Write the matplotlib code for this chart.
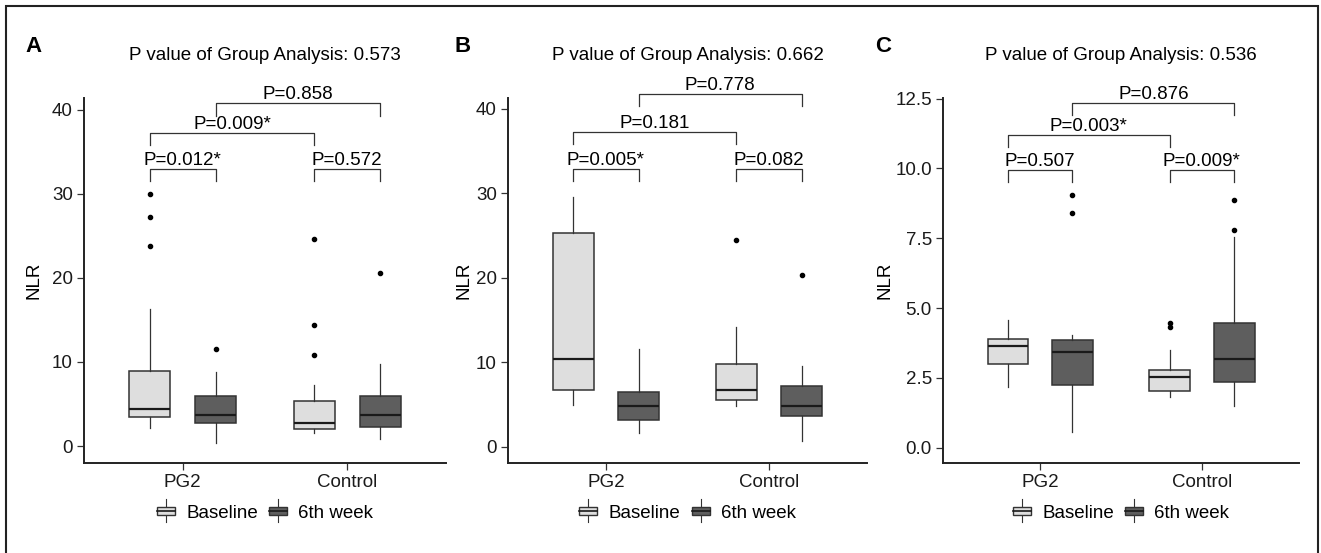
import matplotlib
matplotlib.use('Agg')
import matplotlib.pyplot as plt
from matplotlib.patches import Rectangle, Patch
from matplotlib.lines import Line2D
from matplotlib.legend_handler import HandlerBase
from matplotlib.ticker import FormatStrFormatter

plt.rcParams['font.family'] = ['Liberation Sans', 'DejaVu Sans']

groups = ['PG2', 'Control']
series = ['Baseline', '6th week']

# five-number summaries per group: low whisker, Q1, median, Q3, high whisker
a_baseline = [[2.1, 3.5, 4.4, 8.9, 16.3], [1.6, 2.0, 2.7, 5.4, 7.3]]
a_week6 = [[0.4, 2.7, 3.7, 5.9, 8.8], [0.8, 2.3, 3.7, 6.0, 9.8]]
a_baseline_out = [[30.0, 27.2, 23.8], [24.6, 14.4, 10.8]]
a_week6_out = [[11.6], [20.6]]
a_pvals = ['P=0.012*', 'P=0.572', 'P=0.009*', 'P=0.858']
a_heights = [32.9, 32.9, 37.2, 40.75]

b_baseline = [[4.95, 6.7, 10.4, 25.3, 29.6], [4.8, 5.5, 6.7, 9.8, 14.2]]
b_week6 = [[1.6, 3.1, 4.8, 6.45, 11.55], [0.6, 3.65, 4.8, 7.2, 9.6]]
b_baseline_out = [[], [24.5]]
b_week6_out = [[], [20.3]]
b_pvals = ['P=0.005*', 'P=0.082', 'P=0.181', 'P=0.778']
b_heights = [32.9, 32.9, 37.3, 41.8]

c_baseline = [[2.16, 2.98, 3.64, 3.9, 4.58], [1.8, 2.02, 2.52, 2.79, 3.5]]
c_week6 = [[0.56, 2.24, 3.43, 3.86, 4.05], [1.49, 2.34, 3.17, 4.46, 7.53]]
c_baseline_out = [[], [4.46, 4.31]]
c_week6_out = [[9.04, 8.39], [8.87, 7.81]]
c_pvals = ['P=0.507', 'P=0.009*', 'P=0.003*', 'P=0.876']
c_heights = [9.93, 9.93, 11.21, 12.33]

group_p = ['0.573', '0.662', '0.536']
panel_letters = ['A', 'B', 'C']

fill_colors = ['#DEDEDE', '#5E5E5E']
edge = '#333333'


class BoxKey(HandlerBase):
    # legend key drawn like a small boxplot
    def create_artists(self, legend, orig_handle, xdescent, ydescent,
                       width, height, fontsize, trans):
        x0, y0 = -xdescent, -ydescent
        bh = height * 0.68
        by = y0 + (height - bh) / 2
        xm = x0 + width / 2
        lo = Line2D([xm, xm], [y0 - height * 0.35, by], color=edge, lw=0.8, transform=trans)
        hi = Line2D([xm, xm], [by + bh, y0 + height * 1.4], color=edge, lw=0.8, transform=trans)
        box = Rectangle((x0, by), width, bh, facecolor=orig_handle.get_facecolor(),
                        edgecolor=edge, lw=1.0, transform=trans)
        med = Line2D([x0, x0 + width], [by + bh / 2] * 2, color='#1a1a1a', lw=1.2, transform=trans)
        return [lo, hi, box, med]


def make_stats(summaries, outliers):
    stats = []
    for s, out in zip(summaries, outliers):
        stats.append(dict(whislo=s[0], q1=s[1], med=s[2], q3=s[3], whishi=s[4], fliers=out))
    return stats


panels = [
    (a_baseline, a_week6, a_baseline_out, a_week6_out, a_pvals, a_heights),
    (b_baseline, b_week6, b_baseline_out, b_week6_out, b_pvals, b_heights),
    (c_baseline, c_week6, c_baseline_out, c_week6_out, c_pvals, c_heights),
]
lefts = [84, 508, 943]
rights = [446, 867, 1299]
ylims = [(-2.02, 41.4), (-1.95, 41.3), (-0.55, 12.52)]
yticks = [[0, 10, 20, 30, 40], [0, 10, 20, 30, 40], [0, 2.5, 5, 7.5, 10, 12.5]]
ylabel_x = [-0.116, -0.100, -0.140]
letter_x = [25, 455, 875]

W, H = 1321, 553
fig = plt.figure(figsize=(W / 100, H / 100), dpi=100)

# outer frame (open at the bottom)
fig.add_artist(Rectangle((6 / W, -0.1), (1318 - 6) / W, 1.1 - 6 / H, transform=fig.transFigure,
                         facecolor='none', edgecolor='#222222', lw=1.5))

offset = 0.2
fs = 13.5
for i, (base, wk6, base_out, wk6_out, pvals, heights) in enumerate(panels):
    ax = fig.add_axes([lefts[i] / W, 1 - 463 / H, (rights[i] - lefts[i]) / W, (463 - 98) / H])
    pos = [1, 2]
    for j, (summ, outs) in enumerate([(base, base_out), (wk6, wk6_out)]):
        shift = -offset if j == 0 else offset
        ax.bxp(make_stats(summ, outs), positions=[p + shift for p in pos], widths=0.25,
               patch_artist=True, showcaps=False, manage_ticks=False,
               boxprops=dict(facecolor=fill_colors[j], edgecolor=edge, lw=1.1),
               medianprops=dict(color='#1a1a1a', lw=1.6),
               whiskerprops=dict(color=edge, lw=0.9),
               flierprops=dict(marker='o', markersize=3, markerfacecolor='black',
                               markeredgecolor='black'))

    ax.set_xlim(0.4, 2.6)
    ax.set_ylim(*ylims[i])
    ax.set_xticks(pos, groups)
    ax.set_yticks(yticks[i])
    if i == 2:
        ax.yaxis.set_major_formatter(FormatStrFormatter('%.1f'))
    ax.tick_params(labelsize=fs, length=5, width=0.9, color=edge, pad=3, labelcolor='#1a1a1a')
    for side in ['top', 'right']:
        ax.spines[side].set_visible(False)
    for side in ['left', 'bottom']:
        ax.spines[side].set_linewidth(1.4)
        ax.spines[side].set_color('#222222')

    ax.set_ylabel('NLR', fontsize=fs)
    ax.yaxis.set_label_coords(ylabel_x[i], 0.5)
    ax.set_title('P value of Group Analysis: ' + group_p[i], fontsize=fs, pad=27)

    # significance brackets
    yr = ylims[i][1] - ylims[i][0]
    leg = 0.033 * yr
    pairs = [(1 - offset, 1 + offset), (2 - offset, 2 + offset),
             (1 - offset, 2 - offset), (1 + offset, 2 + offset)]
    for (x1, x2), h, txt in zip(pairs, heights, pvals):
        ax.plot([x1, x1, x2, x2], [h - leg, h, h, h - leg], color=edge, lw=0.9, clip_on=False)
        ax.text((x1 + x2) / 2, h, txt, ha='center', va='bottom', fontsize=fs, clip_on=False)

    handles = [Patch(facecolor=c) for c in fill_colors]
    ax.legend(handles, series, handler_map={Patch: BoxKey()}, loc='center',
              bbox_to_anchor=(0.5, -0.137), ncol=2, frameon=False, fontsize=fs,
              handlelength=0.96, handletextpad=0.6, columnspacing=0.6)

    fig.text(letter_x[i] / W, 1 - 52 / H, panel_letters[i], fontsize=16,
             fontweight='bold', va='baseline')

fig.savefig('out.png', dpi=100)
